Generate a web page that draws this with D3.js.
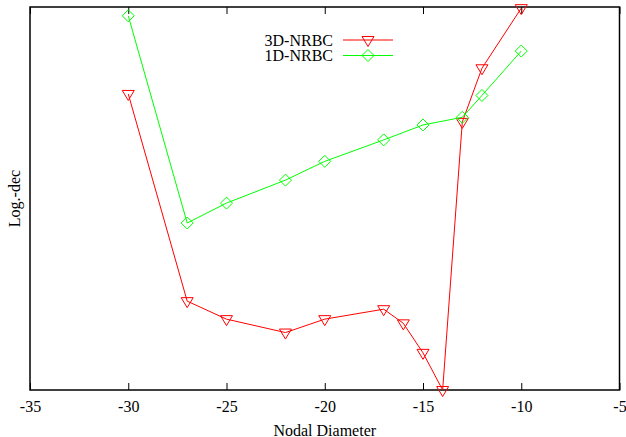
<!DOCTYPE html>
<html><head><meta charset="utf-8">
<script src="https://cdn.jsdelivr.net/npm/d3@7"></script>
<style>body{margin:0;background:#fff}svg{display:block}text{font-family:"Liberation Serif","Times New Roman",serif;}</style>
</head><body>
<svg id="c" width="626" height="437"></svg>
<script>
const xTicks = [-35,-30,-25,-20,-15,-10,-5];
const nd3D = [-30,-27,-25,-22,-20,-17,-16,-15,-14,-13,-12,-10];
const val3D = [0.773,0.232,0.185,0.150,0.185,0.211,0.174,0.097,0.0,0.700,0.840,0.997];
const nd1D = [-30,-27,-25,-22,-20,-17,-15,-13,-12,-10];
const val1D = [0.977,0.436,0.488,0.548,0.597,0.653,0.692,0.712,0.769,0.885];
const seriesNames = ["3D-NRBC","1D-NRBC"];
const colors = ["#ff0000","#00ff00"];

const L=30,R=619.5,T=7,B=390;
const svg=d3.select("#c");
const x=d3.scaleLinear().domain([-35,-5]).range([L,R]);
const y=d3.scaleLinear().domain([0,1]).range([B,T]);

// ticks
const gb=svg.append("g").attr("transform",`translate(0,${B})`)
  .call(d3.axisBottom(x).tickValues(xTicks).tickSize(-7).tickPadding(15).tickFormat(d=>String(d)));
gb.attr("font-family",null);
gb.select(".domain").remove();
gb.selectAll("line").attr("stroke","#000");
gb.selectAll("text").attr("font-size","16px").attr("fill","#000").attr("dy","0.45em")
  .style("font-family",'"Liberation Serif",serif');
const gt=svg.append("g").attr("transform",`translate(0,${T})`)
  .call(d3.axisTop(x).tickValues(xTicks).tickSize(-7).tickFormat(""));
gt.select(".domain").remove();
gt.selectAll("line").attr("stroke","#000");

svg.append("rect").attr("x",L).attr("y",T).attr("width",R-L).attr("height",B-T)
  .attr("fill","none").attr("stroke","#000").attr("stroke-width",1.5);

svg.append("text").attr("x",(L+R)/2).attr("y",435.5).attr("text-anchor","middle")
  .attr("font-size","16px").text("Nodal Diameter");
svg.append("text").attr("transform",`translate(20,${(T+B)/2}) rotate(-90)`)
  .attr("text-anchor","middle").attr("font-size","16px").text("Log.-dec");

function tri(g,cx,cy,col){
  g.append("path").attr("d",`M${cx-6},${cy-3.5}L${cx+6},${cy-3.5}L${cx},${cy+6.5}Z`)
   .attr("fill","none").attr("stroke",col).attr("stroke-width",1);
}
function dia(g,cx,cy,col){
  g.append("path").attr("d",`M${cx},${cy-6}L${cx+6},${cy}L${cx},${cy+6}L${cx-6},${cy}Z`)
   .attr("fill","none").attr("stroke",col).attr("stroke-width",1);
}
const line=d3.line().x(d=>x(d[0])).y(d=>y(d[1]));
const data=[d3.zip(nd3D,val3D),d3.zip(nd1D,val1D)];
const markers=[tri,dia];
data.forEach((pts,i)=>{
  const g=svg.append("g");
  g.append("path").attr("d",line(pts)).attr("fill","none").attr("stroke",colors[i]).attr("stroke-width",1);
  pts.forEach(p=>markers[i](g,x(p[0]),y(p[1]),colors[i]));
});

// legend
seriesNames.forEach((n,i)=>{
  const ly=40+i*15.5;
  svg.append("text").attr("x",333).attr("y",ly).attr("dy","0.35em").attr("text-anchor","end")
    .attr("font-size","16px").text(n);
  svg.append("line").attr("x1",343).attr("x2",393).attr("y1",ly).attr("y2",ly)
    .attr("stroke",colors[i]).attr("stroke-width",1);
  markers[i](svg,368,ly,colors[i]);
});
</script>
</body></html>
